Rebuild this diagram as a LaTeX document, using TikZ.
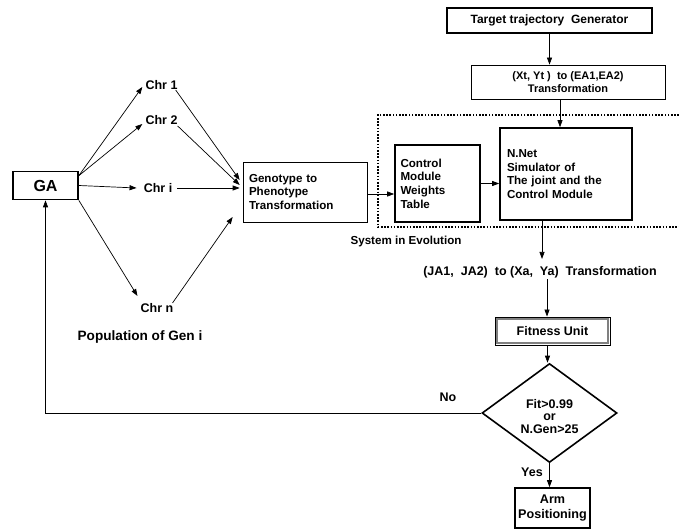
\documentclass[tikz,border=0pt]{standalone}
\usepackage{fontspec}
\setmainfont{Liberation Sans}
\usetikzlibrary{arrows.meta,shapes.geometric}
\newcommand{\fsz}[2]{\fontsize{#1}{#2}\selectfont\bfseries}
\begin{document}
\begin{tikzpicture}[x=1pt,y=-1pt,
  font=\fsz{11.6}{13.7},
  thickbox/.style={draw,line width=1.6pt,inner sep=0pt},
  thinbox/.style={draw,line width=0.7pt,inner sep=0pt},
  lbl/.style={inner sep=1pt},
  arr/.style={line width=0.7pt,-{Triangle[length=7pt,width=5pt]}},
  dotline/.style={line width=2.2pt,dash pattern=on 1.6pt off 1.6pt}]
\useasboundingbox (0,0) rectangle (679,529);

% boxes
\node[thickbox,minimum width=65,minimum height=28,font=\fsz{16}{18}] (ga) at (45.5,185.5) {GA};
\node[thickbox,minimum width=205,minimum height=25,font=\fsz{12}{14}] (tg) at (549.5,20.5) {Target trajectory \ Generator};
\node[thinbox,minimum width=194,minimum height=34,align=center,font=\fsz{11}{13.5}] (xy) at (568,82) {(Xt, Yt )\ \ to (EA1,EA2)\\Transformation};
\node[thickbox,minimum width=85,minimum height=77,align=left,text width=74] (ctrl) at (437.5,183.5) {Control\\Module\\Weights\\Table};
\node[thickbox,minimum width=132,minimum height=92,align=left,text width=118] (nn) at (566,174) {N.Net\\Simulator of\\The joint and the\\Control Module};
\node[thinbox,minimum width=124,minimum height=60,align=left,text width=112] (gp) at (305,192) {Genotype to\\Phenotype\\Transformation};
\node[draw,line width=0.9pt,minimum width=115,minimum height=28,inner sep=0pt,font=\fsz{12.5}{14}] (fit) at (552.5,331) {Fitness Unit};
\draw[line width=1.4pt,gray] ([shift={(2.5pt,-2.5pt)}]fit.north west) rectangle ([shift={(-2.5pt,2.5pt)}]fit.south east);
\node[shape=diamond,draw,line width=1.6pt,minimum width=135,minimum height=99,inner sep=0pt,align=center,font=\fsz{12.5}{12.5}] (dec) at (549.5,413) {\\[3pt]Fit>0.99\\or\\N.Gen>25};
\node[thickbox,minimum width=75,minimum height=40,align=center,font=\fsz{12.6}{15}] (arm) at (552.5,508) {Arm\\Positioning};

% text nodes
\node[lbl,font=\fsz{12.5}{14}] (c1) at (161.5,85) {Chr 1};
\node[lbl,font=\fsz{12.5}{14}] (c2) at (161.5,120) {Chr 2};
\node[lbl,font=\fsz{12.5}{14}] (ci) at (158,188) {Chr i};
\node[lbl,font=\fsz{12.5}{14}] (cn) at (157,308) {Chr n};
\node[lbl,font=\fsz{12.5}{14}] (ja) at (540,272) {(JA1,\ \ JA2) \ to (Xa,\ \ Ya) \ Transformation};
\node[lbl] (sys) at (406,242) {System in Evolution};
\node[lbl,font=\fsz{13.6}{15}] (pop) at (140,337) {Population of Gen i};
\node[lbl,font=\fsz{12.5}{14}] (no) at (448,397) {No};
\node[lbl,font=\fsz{12.5}{14}] (yes) at (532,472) {Yes};

% dotted system box
\coordinate (d1) at (679,115);
\coordinate (d2) at (378,115);
\coordinate (d3) at (378,227);
\coordinate (d4) at (679,227);
\draw[dotline] (d1) -- (d2) -- (d3) -- (d4);

% GA to chromosomes
\draw[arr] ([yshift=-5pt]ga.north east) -- ([xshift=-2pt,yshift=-2pt]c1.west);
\draw[arr] ([yshift=-5pt]ga.north east) -- ([xshift=-2pt,yshift=-4pt]c2.west);
\draw[arr] (ga.east) -- ([xshift=-6pt]ci.west);
\draw[arr] (ga.south east) -- ([xshift=-2pt,yshift=12pt]cn.west);

% chromosomes to genotype
\draw[arr] ([xshift=-3pt,yshift=-5pt]c1.east) -- ([xshift=-3pt,yshift=12pt]gp.west);
\draw[arr] ([xshift=-1pt,yshift=-6pt]c2.east) -- ([xshift=-3pt,yshift=7pt]gp.west);
\draw[arr] ([xshift=4pt]ci.east) -- ([xshift=-3pt,yshift=4pt]gp.west);
\draw[arr] ([xshift=-2pt,yshift=5pt]cn.east) -- ([xshift=-10pt,yshift=-25pt]gp.west);

% main flow
\draw[arr] ([yshift=-2pt]gp.east) -- ([yshift=-2pt]gp.east -| ctrl.west);
\draw[arr] (ctrl.east) -- (ctrl.east -| nn.west);
\draw[arr] (tg.south) -- (tg.south |- xy.north);
\draw[arr] ([xshift=-8pt]xy.south) -- ([xshift=-8pt]xy.south |- nn.north);
\draw[arr] ([xshift=-24pt]nn.south) -- ([xshift=-24pt,yshift=6pt]nn.south |- ja.north);
\draw[arr] ([xshift=7pt]ja.south) -- ([xshift=7pt]ja.south |- fit.north);
\draw[arr] ([xshift=-5pt]fit.south) -- ([xshift=-5pt]fit.south |- dec.north);
\draw[arr] (dec.south) -- (dec.south |- arm.north);
\draw[arr] (dec.west) -| (ga.south);
\end{tikzpicture}
\end{document}
